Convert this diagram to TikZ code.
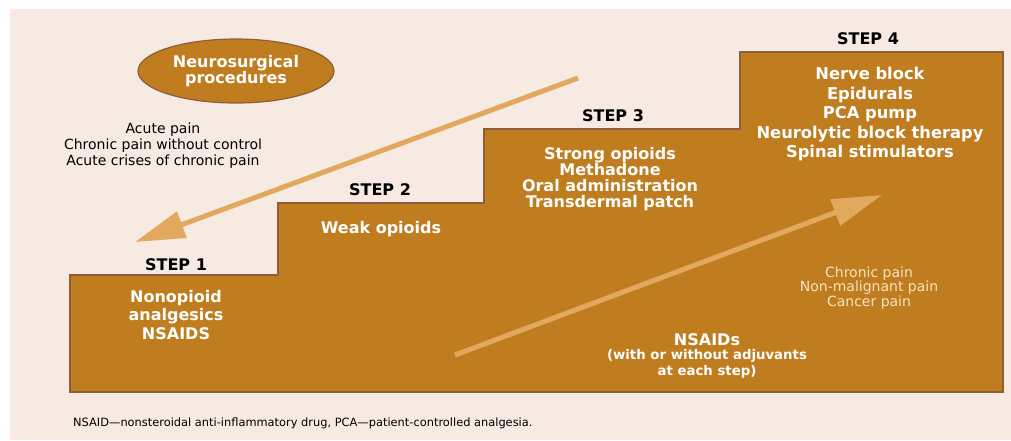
\documentclass[tikz,border=0pt]{standalone}
\usepackage{fontspec}
\setmainfont{DejaVu Sans}
\usetikzlibrary{arrows.meta,shapes.geometric}
\definecolor{bgc}{HTML}{F6EAE2}
\definecolor{boxc}{HTML}{C07D1F}
\definecolor{edgec}{HTML}{8E5E3C}
\definecolor{arrc}{HTML}{E2A95E}
\definecolor{creamc}{HTML}{F7E3C0}
\tikzset{
  steptitle/.style={text=black,font=\bfseries\fontsize{16}{18}\selectfont,inner sep=0pt},
  boxtext/.style={text=white,align=center,inner sep=0pt},
  smalltxt/.style={text=black,align=center,inner sep=0pt,font=\fontsize{14}{16}\selectfont},
  creamtxt/.style={text=creamc,align=center,inner sep=0pt,font=\fontsize{14}{14.5}\selectfont},
  bigarrow/.style={draw=arrc,line width=5pt,-{Triangle[length=50pt,width=27pt]}},
}
\begin{document}
\begin{tikzpicture}[x=1pt,y=-1pt]
\useasboundingbox (0,0) rectangle (1011,440);
\fill[bgc] (10,9) rectangle (1011,440);
% staircase
\draw[fill=boxc,draw=edgec,line width=1.2pt]
  (70,392) -- (70,275) -- (278,275) -- (278,203) -- (484,203) -- (484,129)
  -- (740,129) -- (740,52) -- (1003,52) -- (1003,392) -- cycle;
% ellipse
\node[ellipse,fill=boxc,draw=edgec,line width=1.2pt,minimum width=196pt,minimum height=64pt,inner sep=0pt,
  text=white,align=center,font=\bfseries\fontsize{16}{16}\selectfont] (neuro) at (236,71) {Neurosurgical\\procedures};
% left texts
\node[smalltxt] (acute) at (163,146) {Acute pain\\Chronic pain without control\\Acute crises of chronic pain};
% step titles
\node[steptitle] (s1) at (176,265) {STEP 1};
\node[steptitle] (s2) at (380,190) {STEP 2};
\node[steptitle] (s3) at (613,116) {STEP 3};
\node[steptitle] (s4) at (868,39) {STEP 4};
% step contents
\node[boxtext,font=\bfseries\fontsize{16}{18.5}\selectfont] (t1) at (176,315) {Nonopioid\\analgesics\\NSAIDS};
\node[boxtext,font=\bfseries\fontsize{16}{18}\selectfont] (t2) at (381,229) {Weak opioids};
\node[boxtext,font=\bfseries\fontsize{16}{16}\selectfont] (t3) at (610,179) {Strong opioids\\Methadone\\Oral administration\\Transdermal patch};
\node[boxtext,font=\bfseries\fontsize{16.3}{19.5}\selectfont] (t4) at (870,114) {Nerve block\\Epidurals\\PCA pump\\Neurolytic block therapy\\Spinal stimulators};
\node[creamtxt] (chronic) at (869,288) {Chronic pain\\Non-malignant pain\\Cancer pain};
\node[boxtext,font=\bfseries\fontsize{16}{17}\selectfont] (nsaid) at (707,340) {NSAIDs};
\node[boxtext,font=\bfseries\fontsize{13.3}{16}\selectfont,anchor=north] (adj) at (707,349) {(with or without adjuvants\\at each step)};
% arrows
\coordinate (d0) at (578,78);
\coordinate (d1) at (135,242);
\coordinate (u0) at (455,355);
\coordinate (u1) at (882,195);
\draw[bigarrow] (d0) -- (d1);
\draw[bigarrow] (u0) -- (u1);
% footnote
\node[anchor=west,inner sep=0pt,font=\fontsize{11.4}{12}\selectfont] (foot) at (73,423) {NSAID—nonsteroidal anti-inflammatory drug, PCA—patient-controlled analgesia.};
\end{tikzpicture}
\end{document}
